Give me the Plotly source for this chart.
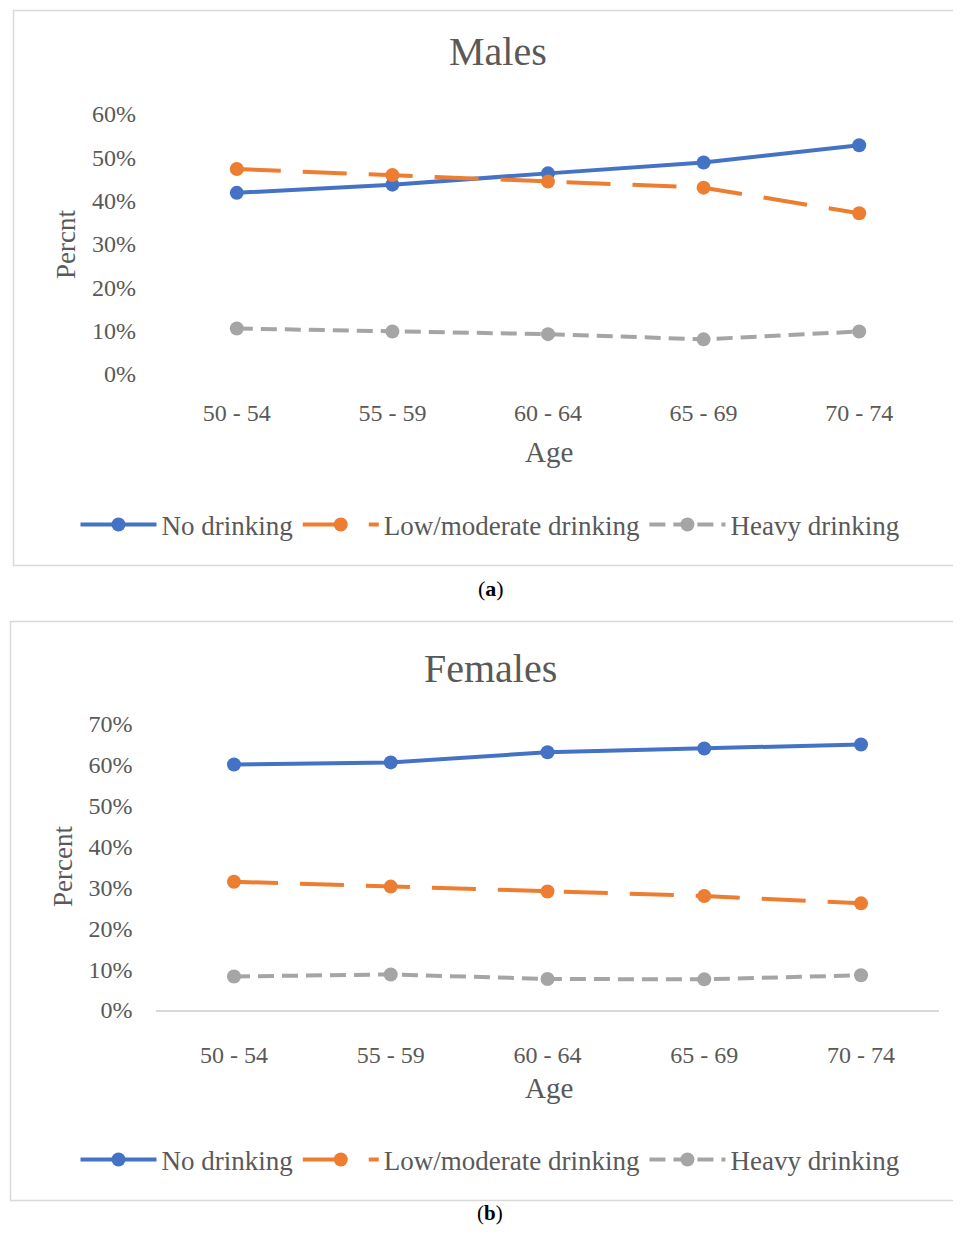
import plotly.graph_objects as go

# ---- data ----
age_groups = ["50 - 54", "55 - 59", "60 - 64", "65 - 69", "70 - 74"]
series_names = ["No drinking", "Low/moderate drinking", "Heavy drinking"]

male_no = [0.418, 0.437, 0.463, 0.488, 0.528]
male_low = [0.473, 0.459, 0.444, 0.430, 0.371]
male_heavy = [0.105, 0.098, 0.092, 0.080, 0.098]

female_no = [0.601, 0.606, 0.631, 0.640, 0.650]
female_low = [0.314, 0.302, 0.290, 0.279, 0.261]
female_heavy = [0.082, 0.087, 0.076, 0.075, 0.085]

# page is 961x1234; body has 8px margin, so the figure is smaller
OX, OY = 8, 8
FW, FH = 961 - 2 * OX, 1234 - 2 * OY
FONT = "Liberation Serif"
TXT = "#595959"
colors = ["#4472C4", "#ED7D31", "#A5A5A5"]
dashes = ["solid", "44px,22px", "16px,8px"]


def px(x):
    return (x - OX) / FW


def py(y):
    return 1 - (y - OY) / FH


fig = go.Figure()

for i, (vals, name) in enumerate(zip([male_no, male_low, male_heavy], series_names)):
    fig.add_trace(go.Scatter(
        x=age_groups, y=vals, name=name, mode="lines+markers",
        line=dict(color=colors[i], width=4, dash=dashes[i]),
        marker=dict(color=colors[i], size=14),
        xaxis="x", yaxis="y", legend="legend", cliponaxis=False))

for i, (vals, name) in enumerate(zip([female_no, female_low, female_heavy], series_names)):
    fig.add_trace(go.Scatter(
        x=age_groups, y=vals, name=name, mode="lines+markers",
        line=dict(color=colors[i], width=4, dash=dashes[i]),
        marker=dict(color=colors[i], size=14),
        xaxis="x2", yaxis="y2", legend="legend2", cliponaxis=False))

tickfont = dict(family=FONT, size=24, color=TXT)
legfont = dict(family=FONT, size=27, color=TXT)

common = dict(showgrid=False, zeroline=False, ticks="", tickfont=tickfont,
              ticklabelstandoff=22, automargin=False)

fig.update_layout(
    width=FW, height=FH,
    margin=dict(l=0, r=0, t=0, b=0, autoexpand=False),
    paper_bgcolor="white", plot_bgcolor="white",
    font=dict(family=FONT, color=TXT),
    xaxis=dict(domain=[px(159), px(937)], anchor="y", type="category",
               range=[-0.5, 4.5], showline=False, **common),
    yaxis=dict(domain=[py(374), py(114)], anchor="x", range=[0, 0.6], dtick=0.1,
               tickformat=".0%", showline=False, **common),
    xaxis2=dict(domain=[px(155.6), px(939.4)], anchor="y2", type="category",
                range=[-0.5, 4.5], showline=True, linecolor="#D9D9D9",
                linewidth=1.5, **common),
    yaxis2=dict(domain=[py(1010), py(724)], anchor="x2", range=[0, 0.7], dtick=0.1,
                tickformat=".0%", showline=False, **common),
    legend=dict(orientation="h", x=px(490), xanchor="center", y=py(525), yanchor="middle",
                font=legfont, bgcolor="rgba(0,0,0,0)", itemwidth=76),
    legend2=dict(orientation="h", x=px(490), xanchor="center", y=py(1160), yanchor="middle",
                 font=legfont, bgcolor="rgba(0,0,0,0)", itemwidth=76),
    showlegend=True,
)

# frames
fig.add_shape(type="rect", xref="paper", yref="paper",
              x0=px(13.5), x1=px(990), y0=py(10.5), y1=py(565.5),
              line=dict(color="#D9D9D9", width=1.5), fillcolor="rgba(0,0,0,0)", layer="below")
fig.add_shape(type="rect", xref="paper", yref="paper",
              x0=px(10.5), x1=px(990), y0=py(621.5), y1=py(1200.5),
              line=dict(color="#D9D9D9", width=1.5), fillcolor="rgba(0,0,0,0)", layer="below")

annots = [
    dict(text="Males", x=px(498), y=py(52), size=40, angle=0, color=TXT),
    dict(text="Females", x=px(490), y=py(668), size=40, angle=0, color=TXT),
    dict(text="Percnt", x=px(66), y=py(245), size=27, angle=-90, color=TXT),
    dict(text="Percent", x=px(63), y=py(867), size=27, angle=-90, color=TXT),
    dict(text="Age", x=px(549), y=py(452), size=29, angle=0, color=TXT),
    dict(text="Age", x=px(549), y=py(1088), size=29, angle=0, color=TXT),
    dict(text="(<b>a</b>)", x=px(491), y=py(588), size=22, angle=0, color="black"),
    dict(text="(<b>b</b>)", x=px(490), y=py(1213), size=21, angle=0, color="black"),
]
for a in annots:
    fig.add_annotation(text=a["text"], x=a["x"], y=a["y"], xref="paper", yref="paper",
                       xanchor="center", yanchor="middle", showarrow=False,
                       textangle=a["angle"],
                       font=dict(family=FONT, size=a["size"], color=a["color"]))

fig.write_html("out.html")
